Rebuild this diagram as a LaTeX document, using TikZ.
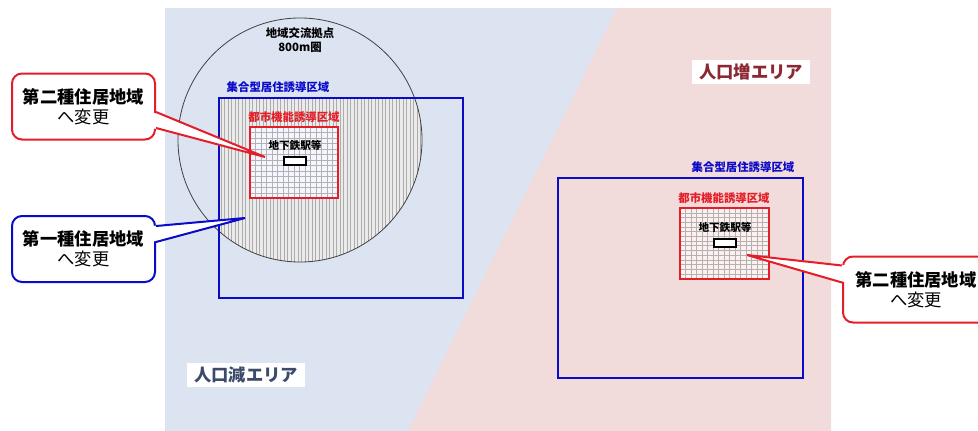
\documentclass[tikz,border=0pt]{standalone}
\usepackage{fontspec}
\newfontfamily\jp{Noto Sans CJK JP}
\usetikzlibrary{calc}
\definecolor{lowbg}{RGB}{220,228,242}
\definecolor{highbg}{RGB}{242,219,219}
\definecolor{zoneblue}{RGB}{10,10,200}
\definecolor{zonered}{RGB}{228,30,40}
\definecolor{lowtext}{RGB}{60,75,105}
\definecolor{hightext}{RGB}{140,40,50}
\tikzset{
% Zone outlines and their labels
living zone/.style={draw=zoneblue,line width=2.6},
city zone/.style={draw=zonered,line width=2.4},
zone label/.style={font=\jp\bfseries\fontsize{11.4}{13}\selectfont,inner sep=0},
% Hatching and grid lines
hatch line/.style={draw=gray!65,line width=0.45},
grid line/.style={draw=gray!60,line width=0.4},
% Station marker
station/.style={draw,fill=white,line width=1.2,minimum width=22,minimum height=8,inner sep=0},
% Area name tags
area tag/.style={fill=white,font=\jp\bfseries\fontsize{17.3}{19}\selectfont,minimum width=118,minimum height=24,inner sep=0},
% Callout boxes
callout/.style={draw=#1,fill=white,line width=2,rounded corners=10,minimum width=143,minimum height=66,align=center,font=\jp\fontsize{17.3}{20}\selectfont,inner sep=0},
pointer/.style={draw=#1,line width=2}
}
\begin{document}
\begin{tikzpicture}[x=1pt,y=-1pt]
      \useasboundingbox (0,0) rectangle (978,431);
      \clip (0,0) rectangle (978,431);
      % Background: shrinking and growing areas
      \fill[lowbg] (165,8) rectangle (831,431);
      \fill[highbg] (617,8) -- (831,8) -- (831,431) -- (408,431) -- cycle;
      % Hatching inside the 800m circle and the living zone
      \begin{scope}
        \clip (300,140) circle (122);
        \clip (219,98) rectangle (463,298);
        \fill[gray!16] (219,98) rectangle (463,298);
        \foreach \x in {221,224.5,...,424} \draw[hatch line] (\x,10) -- (\x,300);
      \end{scope}
      \node(ring)[draw=black!75,line width=0.8,circle,minimum size=244,inner sep=0] at (300,140) {};
      \node[zone label] at (300,33) {地域交流拠点};
      \node[zone label] at (300,47) {800m圏};
      % Left zones
      \node(live1)[living zone,minimum width=244,minimum height=200,inner sep=0] at (341,198) {};
      \node[zone label,text=zoneblue] at (278,87) {集合型居住誘導区域};
      \fill[blue!4!white] (250,127) rectangle (338,198);
      \foreach \x in {255.5,261,...,335} \draw[grid line] (\x,127) -- (\x,198);
      \foreach \y in {132.5,138,...,196} \draw[grid line] (250,\y) -- (338,\y);
      \node(city1)[city zone,minimum width=88,minimum height=71,inner sep=0] at (294,162.5) {};
      \node[zone label,text=zonered] at (294,117) {都市機能誘導区域};
      \node[zone label,font=\jp\bfseries\fontsize{10.6}{12}\selectfont] at (295,145) {地下鉄駅等};
      \node(sta1)[station] at (295,161) {};
      % Right zones
      \node(live2)[living zone,minimum width=245,minimum height=200,inner sep=0] at (680.5,278) {};
      \node[zone label,text=zoneblue] at (743,167) {集合型居住誘導区域};
      \fill[red!6!white] (680,208) rectangle (769,279);
      \foreach \x in {685.5,691,...,766} \draw[grid line] (\x,208) -- (\x,279);
      \foreach \y in {212.7,217.4,...,277} \draw[grid line] (680,\y) -- (769,\y);
      \node(city2)[city zone,minimum width=89,minimum height=71,inner sep=0] at (724.5,243.5) {};
      \node[zone label,text=zonered] at (724,198) {都市機能誘導区域};
      \node[zone label,font=\jp\bfseries\fontsize{10.6}{12}\selectfont] at (725,227) {地下鉄駅等};
      \node(sta2)[station] at (725,243) {};
      % Area names
      \node(low)[area tag,text=lowtext] at (246,375) {人口減エリア};
      \node(high)[area tag,text=hightext] at (751,71.5) {人口増エリア};
      % Callouts
      \node(call1)[callout=zonered] at (83.5,106.5) {{\bfseries 第二種住居地域}\\へ変更};
      \coordinate (tip1) at (265,157);
      \fill[white] ($(call1.east)+(-4,5.5)$) -- (tip1) -- ($(call1.east)+(-4,21.5)$) -- cycle;
      \draw[pointer=zonered] ($(call1.east)+(0,5.5)$) -- (tip1) -- ($(call1.east)+(0,21.5)$);
      \node(call2)[callout=zoneblue] at (83.5,249) {{\bfseries 第一種住居地域}\\へ変更};
      \coordinate (tip2) at (245,218);
      \fill[white] ($(call2.east)+(-4,-23)$) -- (tip2) -- ($(call2.east)+(-4,-7)$) -- cycle;
      \draw[pointer=zoneblue] ($(call2.east)+(0,-23)$) -- (tip2) -- ($(call2.east)+(0,-7)$);
      \node(call3)[callout=zonered,minimum width=146] at (916,289.5) {{\bfseries 第二種住居地域}\\へ変更};
      \coordinate (tip3) at (747,255);
      \fill[white] ($(call3.west)+(4,-24)$) -- (tip3) -- ($(call3.west)+(4,-7)$) -- cycle;
      \draw[pointer=zonered] ($(call3.west)+(0,-24)$) -- (tip3) -- ($(call3.west)+(0,-7)$);
    \end{tikzpicture}
\end{document}
